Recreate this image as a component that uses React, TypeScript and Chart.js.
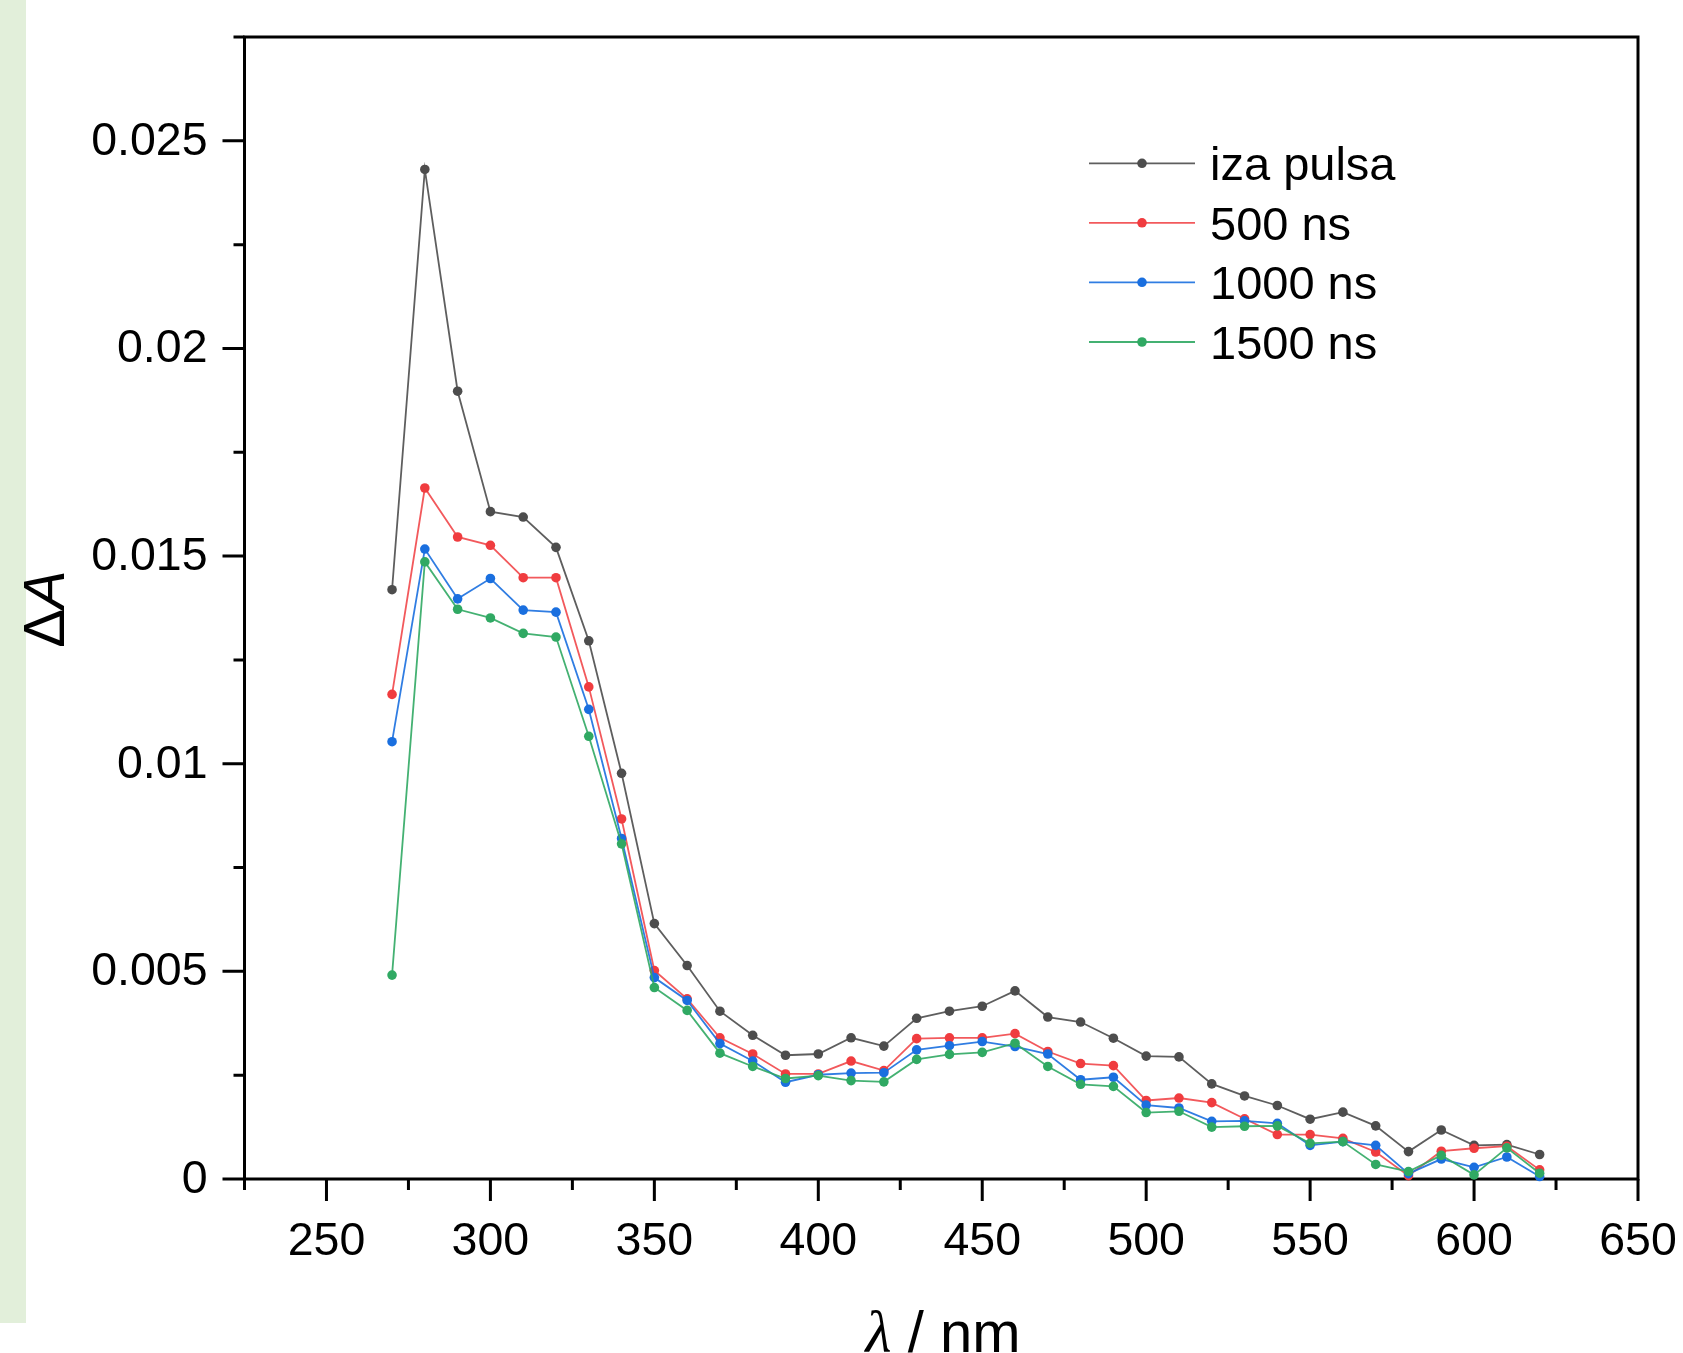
import React, { useEffect, useRef } from "react";
import { Chart, registerables } from "chart.js";

Chart.register(...registerables);

const wavelengths = [270, 280, 290, 300, 310, 320, 330, 340, 350, 360, 370, 380, 390, 400, 410, 420, 430, 440, 450, 460, 470, 480, 490, 500, 510, 520, 530, 540, 550, 560, 570, 580, 590, 600, 610, 620];

const izaPulsa = [0.01419, 0.02431, 0.01897, 0.01607, 0.01594, 0.01521, 0.01296, 0.00977, 0.00615, 0.00514, 0.00404, 0.00346, 0.00298, 0.00301, 0.0034, 0.0032, 0.00387, 0.00404, 0.00416, 0.00453, 0.0039, 0.00378, 0.00339, 0.00296, 0.00294, 0.00229, 0.002, 0.00177, 0.00144, 0.00161, 0.00128, 0.00066, 0.00118, 0.00081, 0.00083, 0.00059];

const ns500 = [0.01167, 0.01664, 0.01546, 0.01526, 0.01448, 0.01448, 0.01185, 0.00867, 0.00502, 0.00434, 0.0034, 0.00301, 0.00253, 0.00253, 0.00284, 0.00261, 0.00338, 0.0034, 0.0034, 0.0035, 0.00307, 0.00278, 0.00273, 0.00189, 0.00195, 0.00184, 0.00145, 0.00107, 0.00107, 0.00098, 0.00065, 0.00008, 0.00067, 0.00074, 0.00079, 0.00022];

const ns1000 = [0.01053, 0.01517, 0.01397, 0.01446, 0.0137, 0.01365, 0.01131, 0.0082, 0.00485, 0.0043, 0.00326, 0.00284, 0.00233, 0.00251, 0.00255, 0.00256, 0.00311, 0.00321, 0.00331, 0.00319, 0.00301, 0.00239, 0.00245, 0.00178, 0.00171, 0.00139, 0.0014, 0.00134, 0.00081, 0.0009, 0.00081, 0.00013, 0.00048, 0.00028, 0.00053, 0.00006];

const ns1500 = [0.00491, 0.01486, 0.01372, 0.01351, 0.01314, 0.01305, 0.01066, 0.00807, 0.00461, 0.00406, 0.00303, 0.00271, 0.00242, 0.00249, 0.00237, 0.00234, 0.00288, 0.003, 0.00305, 0.00327, 0.00271, 0.00228, 0.00223, 0.0016, 0.00163, 0.00125, 0.00127, 0.00128, 0.00086, 0.0009, 0.00035, 0.00018, 0.00057, 0.0001, 0.00075, 0.00014];

const seriesLabels = ["iza pulsa", "500 ns", "1000 ns", "1500 ns"];
const seriesColors = ["#4d4d4d", "#f03c3f", "#1a6fdf", "#30a963"];
const seriesLineColors = ["rgba(77,77,77,0.9)", "rgba(240,60,63,0.85)", "rgba(26,111,223,0.9)", "rgba(48,169,99,0.9)"];

const xMajorTicks = [250, 300, 350, 400, 450, 500, 550, 600, 650];
const xMinorTicks = [225, 275, 325, 375, 425, 475, 525, 575, 625];
const yMajorTicks = [0, 0.005, 0.01, 0.015, 0.02, 0.025];
const yMajorLabels = ["0", "0.005", "0.01", "0.015", "0.02", "0.025"];
const yMinorTicks = [0.0025, 0.0075, 0.0125, 0.0175, 0.0225, 0.0275];

const SANS = '"Liberation Sans", Arial, sans-serif';

const originPlugin = {
  id: "originAxes",
  beforeDatasetsDraw(chart: any) {
    const { ctx, chartArea: a } = chart;
    const x = chart.scales.x;
    const y = chart.scales.y;
    ctx.save();
    ctx.strokeStyle = "#000";
    ctx.lineWidth = 3;
    ctx.lineCap = "butt";
    ctx.beginPath();
    for (const v of xMajorTicks) {
      const px = x.getPixelForValue(v);
      ctx.moveTo(px, a.bottom);
      ctx.lineTo(px, a.bottom + 22);
    }
    for (const v of xMinorTicks) {
      const px = x.getPixelForValue(v);
      ctx.moveTo(px, a.bottom);
      ctx.lineTo(px, a.bottom + 11);
    }
    for (const v of yMajorTicks) {
      const py = y.getPixelForValue(v);
      ctx.moveTo(a.left, py);
      ctx.lineTo(a.left - 22, py);
    }
    for (const v of yMinorTicks) {
      const py = y.getPixelForValue(v);
      ctx.moveTo(a.left, py);
      ctx.lineTo(a.left - 11, py);
    }
    ctx.stroke();
    ctx.lineWidth = 3;
    ctx.lineJoin = "miter";
    ctx.strokeRect(a.left, a.top, a.right - a.left, a.bottom - a.top);

    // tick labels
    ctx.fillStyle = "#000";
    ctx.font = `46.5px ${SANS}`;
    ctx.textAlign = "center";
    ctx.textBaseline = "alphabetic";
    for (const v of xMajorTicks) {
      ctx.fillText(String(v), x.getPixelForValue(v), a.bottom + 76);
    }
    ctx.textAlign = "right";
    ctx.textBaseline = "middle";
    yMajorTicks.forEach((v, i) => {
      ctx.fillText(yMajorLabels[i], a.left - 37, y.getPixelForValue(v) + 1);
    });
    ctx.restore();
  },
  afterDraw(chart: any) {
    const { ctx } = chart;
    ctx.save();
    ctx.fillStyle = "#000";
    // x title: λ / nm
    const lam = "λ";
    const rest = " / nm";
    const serifItalic = `italic 60px "Liberation Serif", "DejaVu Serif", serif`;
    ctx.font = serifItalic;
    const wl = ctx.measureText(lam).width;
    ctx.font = `58px ${SANS}`;
    const wr = ctx.measureText(rest).width;
    const sx = 943 - (wl + wr) / 2;
    ctx.textAlign = "left";
    ctx.textBaseline = "alphabetic";
    ctx.font = serifItalic;
    ctx.fillText(lam, sx, 1352);
    ctx.font = `58px ${SANS}`;
    ctx.fillText(rest, sx + wl, 1352);

    // y title: ΔA rotated
    ctx.save();
    ctx.translate(64, 609);
    ctx.rotate(-Math.PI / 2);
    ctx.font = `58px ${SANS}`;
    const wd = ctx.measureText("Δ").width;
    ctx.font = `italic 58px ${SANS}`;
    const wa = ctx.measureText("A").width;
    const start = -(wd + wa) / 2;
    ctx.font = `58px ${SANS}`;
    ctx.fillText("Δ", start, 0);
    ctx.font = `italic 58px ${SANS}`;
    ctx.fillText("A", start + wd, 0);
    ctx.restore();

    // legend
    const rows = [163.3, 222.8, 282.3, 342];
    chart.data.datasets.forEach((ds: any, i: number) => {
      const cy = rows[i];
      ctx.strokeStyle = ds.borderColor;
      ctx.lineWidth = 1.8;
      ctx.beginPath();
      ctx.moveTo(1089, cy);
      ctx.lineTo(1195, cy);
      ctx.stroke();
      ctx.fillStyle = ds.pointBackgroundColor;
      ctx.beginPath();
      ctx.arc(1142, cy, 4.8, 0, Math.PI * 2);
      ctx.fill();
      ctx.fillStyle = "#000";
      ctx.font = `47px ${SANS}`;
      ctx.textAlign = "left";
      ctx.textBaseline = "alphabetic";
      ctx.fillText(ds.label, 1210, cy + 17);
    });
    ctx.restore();
  },
};

export default function App() {
  const canvasRef = useRef<HTMLCanvasElement | null>(null);

  useEffect(() => {
    const canvas = canvasRef.current;
    if (!canvas) return;
    const seriesValues = [izaPulsa, ns500, ns1000, ns1500];
    const datasets = seriesValues.map((vals, i) => ({
      label: seriesLabels[i],
      data: wavelengths.map((w, j) => ({ x: w, y: vals[j] })),
      borderColor: seriesLineColors[i],
      backgroundColor: seriesColors[i],
      pointBackgroundColor: seriesColors[i],
      pointBorderColor: seriesColors[i],
      pointBorderWidth: 0,
      pointRadius: 4.8,
      borderWidth: 1.8,
      tension: 0,
      fill: false,
      clip: false,
      order: 3 - i,
    }));
    const chart = new Chart(canvas, {
      type: "line",
      data: { datasets },
      options: {
        animation: false,
        responsive: false,
        devicePixelRatio: 1,
        layout: { padding: { left: 0, top: 37, right: 45, bottom: 0 } },
        plugins: { legend: { display: false }, tooltip: { enabled: false } },
        scales: {
          x: {
            type: "linear",
            min: 225,
            max: 650,
            grid: { display: false },
            border: { display: false },
            ticks: { display: false },
            afterFit: (s: any) => {
              s.height = 174;
            },
          },
          y: {
            type: "linear",
            min: 0,
            max: 0.0275,
            grid: { display: false },
            border: { display: false },
            ticks: { display: false },
            afterFit: (s: any) => {
              s.width = 244.5;
            },
          },
        },
      },
      plugins: [originPlugin],
    } as any);
    return () => chart.destroy();
  }, []);

  return (
    <div
      style={{
        position: "absolute",
        left: 0,
        top: 0,
        width: 1683,
        height: 1353,
        background: "#ffffff",
        overflow: "hidden",
      }}
    >
      <div
        style={{
          position: "absolute",
          left: 0,
          top: 0,
          width: 26,
          height: 1323,
          background: "#e2efda",
        }}
      />
      <canvas
        ref={canvasRef}
        width={1683}
        height={1353}
        style={{ position: "absolute", left: 0, top: 0, width: 1683, height: 1353 }}
      />
    </div>
  );
}
